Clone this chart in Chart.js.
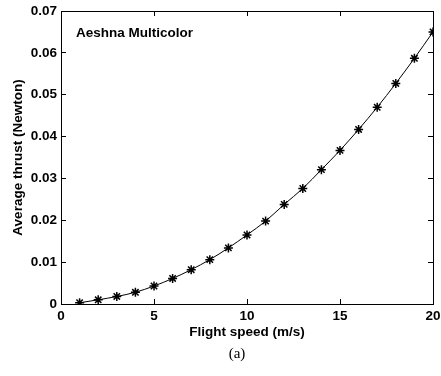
<!DOCTYPE html>
<html>
<head>
<meta charset="utf-8">
<script src="https://cdn.jsdelivr.net/npm/chart.js@4"></script>
<style>
html,body{margin:0;padding:0;background:#fff;}
#wrap{width:441px;height:376px;position:relative;}
</style>
</head>
<body>
<div id="wrap"><canvas id="c" width="441" height="376"></canvas></div>
<script>
const speeds = [1,2,3,4,5,6,7,8,9,10,11,12,13,14,15,16,17,18,19,20];
const thrust = [0.0003,0.0010,0.0018,0.0028,0.0043,0.0061,0.0082,0.0106,0.0134,0.0165,0.0198,0.0238,0.0276,0.0321,0.0367,0.0417,0.0470,0.0527,0.0587,0.0650];
const xTickLabels = ['0','5','10','15','20'];
const yTickLabels = ['0','0.01','0.02','0.03','0.04','0.05','0.06','0.07'];
const seriesLabel = 'Aeshna Multicolor';
const caption = '(a)';

const font = {family:'"Liberation Sans", Arial, sans-serif', size:13.5, weight:'bold'};
const inGrid = {display:true, drawOnChartArea:false, drawTicks:true, tickLength:-5, color:'#000', lineWidth:1};
const blackBorder = {display:true, color:'#000', width:1};
const noPad = (s)=>{s.paddingLeft=0;s.paddingRight=0;s.paddingTop=0;s.paddingBottom=0;};

const labelPlugin = {
  id:'seriesLabel',
  afterDraw(chart){
    const {ctx, chartArea:a} = chart;
    ctx.save();
    ctx.fillStyle = '#000';
    ctx.font = 'bold 13.5px "Liberation Sans", Arial, sans-serif';
    ctx.textBaseline = 'middle';
    ctx.textAlign = 'left';
    ctx.fillText(seriesLabel, a.left+15, a.top+22);
    ctx.font = '15px "Liberation Serif", "Times New Roman", serif';
    ctx.textAlign = 'center';
    ctx.fillText(caption, 237, 354);
    ctx.restore();
  }
};

new Chart(document.getElementById('c'), {
  type:'line',
  data:{
    datasets:[{
      data: speeds.map((s,i)=>({x:s,y:thrust[i]})),
      borderColor:'#000',
      borderWidth:1,
      pointStyle:'star',
      pointRadius:4.5,
      pointBorderColor:'#000',
      pointBorderWidth:1.5,
      pointBackgroundColor:'#000',
      cubicInterpolationMode:'monotone',
      fill:false
    }]
  },
  options:{
    responsive:false,
    animation:false,
    layout:{padding:{left:0,right:8,top:11,bottom:36}},
    plugins:{
      legend:{display:false},
      tooltip:{enabled:false},
      title:{display:false}
    },
    scales:{
      x:{
        type:'linear', position:'bottom', min:0, max:20,
        afterFit:(s)=>{s.height=36;noPad(s);},
        ticks:{stepSize:5, color:'#000', font, padding:9, maxRotation:0,
          callback:(v)=>{const i=Math.round(v/5);return xTickLabels[i];}},
        grid:inGrid,
        border:blackBorder,
        title:{display:true, text:'Flight speed (m/s)', color:'#000', font, padding:{top:0,bottom:0}}
      },
      x2:{
        type:'linear', position:'top', min:0, max:20,
        afterFit:(s)=>{s.height=0;noPad(s);},
        ticks:{stepSize:5, display:false},
        grid:inGrid,
        border:blackBorder
      },
      y:{
        type:'linear', position:'left', min:0, max:0.07,
        afterFit:(s)=>{s.width=61;noPad(s);},
        ticks:{stepSize:0.01, color:'#000', font, padding:9,
          callback:(v)=>{const i=Math.round(v/0.01);return yTickLabels[i];}},
        grid:inGrid,
        border:blackBorder,
        title:{display:true, text:'Average thrust (Newton)', color:'#000', font, padding:{top:10,bottom:0}}
      },
      y2:{
        type:'linear', position:'right', min:0, max:0.07,
        afterFit:(s)=>{s.width=0;noPad(s);},
        ticks:{stepSize:0.01, display:false},
        grid:inGrid,
        border:blackBorder
      }
    }
  },
  plugins:[labelPlugin]
});
</script>
</body>
</html>
